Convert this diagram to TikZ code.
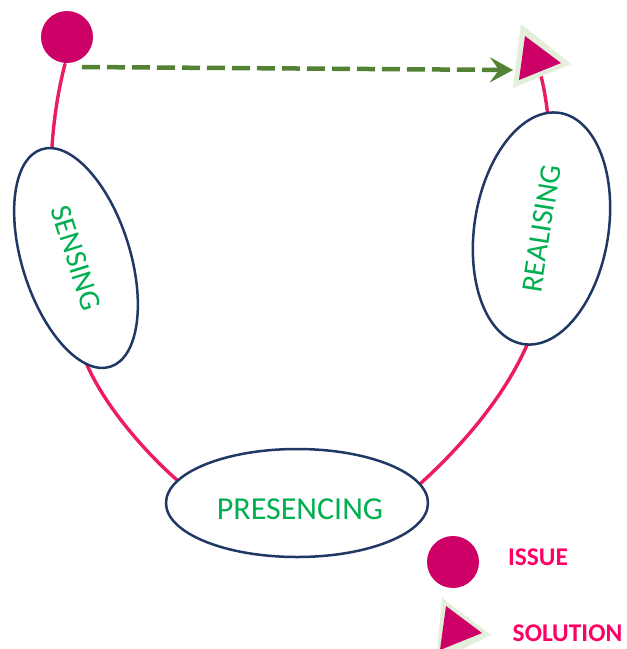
\documentclass[tikz,border=0pt]{standalone}
\usepackage{fontspec}
\setmainfont{Carlito}
\usetikzlibrary{shapes.geometric,arrows.meta}
\definecolor{magentafill}{HTML}{CC0066}
\definecolor{redline}{HTML}{EC1C5E}
\definecolor{pinktext}{HTML}{FF0066}
\definecolor{navyline}{HTML}{1F3864}
\definecolor{labelgreen}{HTML}{00B050}
\definecolor{arrowgreen}{HTML}{548235}
\definecolor{palegreen}{HTML}{E2EFDA}
\begin{document}
\begin{tikzpicture}[x=1pt,y=-1pt,
  phase/.style={ellipse, draw=navyline, line width=2.5pt, fill=white, inner sep=0pt,
    text=labelgreen, font=\fontsize{30}{30}\selectfont},
  phaselabel/.style={text=labelgreen, inner sep=0pt, font=\fontsize{32}{32}\selectfont},
  keylabel/.style={text=pinktext, inner sep=0pt, font=\bfseries\fontsize{25.5}{25.5}\selectfont},
  cycleline/.style={draw=redline, line width=3.4pt, line cap=round},
  issuedot/.style={circle, fill=magentafill, minimum size=52pt, inner sep=0pt},
  flowarrow/.style={draw=arrowgreen, line width=4.5pt, dash pattern=on 18pt off 7pt,
    -{Stealth[length=23pt, width=25pt, inset=9pt]}}]
\useasboundingbox (0,0) rectangle (627,649);
\clip (0,0) rectangle (627,649);
\fill[white] (0,0) rectangle (627,649);

% cycle curve points
\coordinate (c0) at (65,64);
\coordinate (c4) at (88,367);
\coordinate (c6) at (177,480);
\coordinate (c8) at (420,484);
\coordinate (c10) at (527,345);
\coordinate (c13) at (541,76);
\draw[cycleline] (c0) .. controls (30,200) and (70,327) .. (c4)
  .. controls (106,407) and (145,452) .. (c6)
  .. controls (240,535) and (370,530) .. (c8)
  .. controls (465,443) and (505,395) .. (c10)
  .. controls (560,270) and (555,130) .. (c13);

% phases
\node[phase, rotate=-72.5, minimum width=228pt, minimum height=108pt] (sensing) at (76,258) {SENSING};
\node[phase, rotate=81, minimum width=234pt, minimum height=134pt] (realising) at (541.5,228.5) {REALISING};
\node[phase, minimum width=262pt, minimum height=108pt] (presencing) at (297,503) {};
\node[phaselabel] (presencingtext) at (300,509) {PRESENCING};

% issue
\node[issuedot] (issue) at (67,37) {};

% solution triangle
\fill[palegreen] (521,24) -- (571,64) -- (513,88) -- cycle;
\fill[magentafill] (525,36) -- (561,63) -- (519,80) -- cycle;
\coordinate (solution) at (540,60);

% dashed arrow
\coordinate (arrowstart) at (82,67);
\coordinate (arrowend) at (513,70);
\draw[flowarrow] (arrowstart) -- (arrowend);

% legend
\node[issuedot] (issuekey) at (453,562) {};
\fill[palegreen] (442,598) -- (491,635) -- (436,662) -- cycle;
\fill[magentafill] (446,606) -- (482,633) -- (440,650) -- cycle;
\coordinate (solutionkey) at (455,630);
\node[keylabel] (issuelabel) at (538,557.5) {ISSUE};
\node[keylabel] (solutionlabel) at (567.5,633.5) {SOLUTION};
\end{tikzpicture}
\end{document}
